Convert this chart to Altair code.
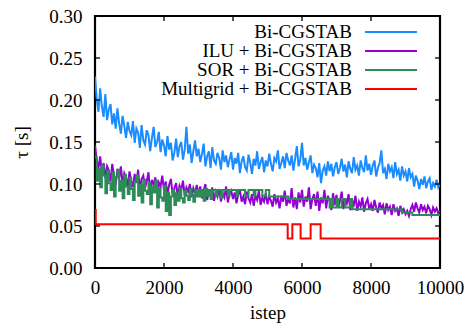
import altair as alt
import pandas as pd

# ---------------- data, tau in milliseconds ----------------
istep = list(range(0, 10001, 50))

bicgstab_ms = [
    228, 201, 186, 214, 192, 180, 207, 176, 189, 195, 171, 184, 166, 190, 172, 160, 181, 169, 155, 174,
    163, 158, 175, 149, 166, 161, 143, 170, 152, 147, 164, 158, 139, 155, 168, 144, 150, 162, 138, 153,
    146, 133, 157, 141, 149, 128, 137, 154, 132, 145, 150, 129, 141, 168, 136, 147, 125, 139, 152, 133,
    142, 126, 136, 148, 121, 133, 139, 119, 144, 128, 124, 137, 131, 117, 140, 126, 134, 120, 129, 138,
    117, 131, 124, 137, 113, 127, 133, 120, 116, 135, 125, 112, 130, 122, 139, 118, 126, 132, 114, 128,
    121, 136, 124, 115, 131, 127, 140, 118, 125, 133, 119, 137, 128, 122, 134, 116, 130, 145, 121, 129,
    149, 122, 131, 117, 126, 134, 113, 123, 119, 108, 125, 101, 116, 121, 110, 127, 115, 124, 109, 120,
    126, 112, 119, 130, 115, 123, 108, 127, 118, 113, 132, 117, 122, 110, 128, 119, 114, 134, 116, 124,
    111, 122, 128, 109, 119, 125, 140, 113, 118, 106, 124, 115, 120, 107, 126, 112, 117, 104, 121, 110,
    115, 103, 119, 108, 112, 97, 110, 104, 94, 106, 99, 109, 95, 103, 107, 93, 101, 97, 105, 96,
    100,
]

ilu_ms = [
    146, 128, 119, 133, 112, 125, 107, 121, 116, 103, 124, 110, 99, 118, 106, 121, 100, 113, 108, 97,
    115, 104, 96, 112, 101, 117, 93, 106, 110, 95, 103, 114, 91, 105, 99, 108, 89, 102, 97, 110,
    92, 103, 88, 99, 106, 87, 95, 101, 85, 98, 93, 104, 86, 96, 91, 100, 84, 95, 89, 99,
    87, 97, 83, 92, 100, 81, 90, 86, 96, 80, 91, 85, 94, 79, 89, 84, 97, 78, 88, 92,
    82, 90, 77, 87, 93, 79, 85, 76, 91, 83, 78, 88, 74, 86, 81, 92, 75, 84, 79, 89,
    76, 85, 80, 73, 88, 78, 83, 71, 86, 79, 92, 74, 82, 77, 95, 72, 84, 70, 90, 78,
    93, 73, 85, 79, 96, 70, 82, 88, 74, 91, 68, 84, 77, 93, 71, 86, 80, 69, 89, 75,
    87, 72, 80, 91, 70, 83, 77, 88, 69, 81, 75, 86, 68, 79, 73, 84, 67, 77, 82, 70,
    76, 68, 81, 72, 66, 78, 71, 75, 64, 77, 69, 73, 63, 76, 68, 71, 62, 74, 66, 70,
    64, 68, 62, 70, 75, 67, 78, 71, 66, 76, 69, 73, 65, 74, 70, 63, 72, 67, 71, 65,
    68,
]

sor_ms = [
    132, 104, 118, 96, 122, 110, 89, 116, 101, 93, 114, 85, 108, 117, 92, 104, 83, 111, 97, 88,
    107, 94, 81, 103, 110, 86, 99, 78, 105, 92, 88, 101, 76, 97, 90, 104, 72, 95, 84, 80,
    98, 68, 90, 63, 85, 93, 75, 89, 80, 95, 83, 78, 92, 86, 81, 94, 87, 79, 93, 85,
    93, 85, 93, 80, 94, 86, 93, 82, 93, 93, 86, 93, 93, 84, 93, 93, 93, 86, 93, 93,
    93, 93, 86, 93, 93, 93, 93, 86, 86, 93, 93, 93, 86, 93, 93, 93, 93, 86, 86, 93,
    93, 85, 85, 85, 85, 85, 85, 85, 85, 85, 85, 85, 82, 82, 82, 82, 82, 82, 82, 82,
    82, 82, 82, 82, 82, 82, 82, 82, 82, 82, 82, 82, 82, 82, 82, 82, 72, 82, 72, 72,
    82, 72, 72, 82, 82, 72, 72, 72, 82, 70, 70, 70, 70, 70, 70, 70, 70, 70, 70, 70,
    70, 70, 70, 70, 70, 70, 70, 70, 70, 70, 70, 70, 70, 70, 70, 70, 70, 70, 66, 66,
    66, 66, 66, 66, 63, 63, 63, 63, 63, 63, 63, 63, 63, 63, 63, 63, 63, 63, 63, 63,
    63,
]

mg_istep = [0, 20, 5585, 5720, 5960, 6250, 6540, 10000]
multigrid_ms = [69, 52, 35, 52, 35, 52, 35, 35]

x_ticks = [0, 2000, 4000, 6000, 8000, 10000]
y_ticks = [0.00, 0.05, 0.10, 0.15, 0.20, 0.25, 0.30]

labels = ["Bi-CGSTAB", "ILU + Bi-CGSTAB", "SOR + Bi-CGSTAB", "Multigrid + Bi-CGSTAB"]
colors = ["#1a8cff", "#9400d3", "#2e8b57", "#ff0000"]

# ---------------- chart ----------------
W, H = 345, 252
FONT = "Liberation Serif, serif"
FS = 19

xs = alt.Scale(domain=[0, 10000], nice=False, zero=False)
ys = alt.Scale(domain=[0, 0.30], nice=False)

x_axis = alt.Axis(values=x_ticks, format="d", ticks=False, domain=False, grid=False,
                  labelFont=FONT, labelFontSize=FS, labelPadding=10, labelFlush=False,
                  labelOverlap=False, labelColor="black",
                  title="istep", titleFont=FONT, titleFontSize=FS, titleFontWeight="normal",
                  titlePadding=6, titleColor="black")
y_axis = alt.Axis(values=y_ticks, format=".2f", ticks=False, domain=False, grid=False,
                  labelFont=FONT, labelFontSize=FS, labelPadding=13, labelColor="black",
                  labelOverlap=False,
                  title="τ [s]", titleFont=FONT, titleFontSize=FS, titleFontWeight="normal",
                  titlePadding=17, titleColor="black")

X = alt.X("istep:Q", scale=xs, axis=x_axis)
Y = alt.Y("tau:Q", scale=ys, axis=y_axis)


def series(xv, yv_ms, color, interp):
    df = pd.DataFrame({"istep": xv, "tau": [v / 1000 for v in yv_ms]})
    return alt.Chart(df).mark_line(color=color, strokeWidth=2, interpolate=interp,
                                   clip=True).encode(x=X, y=Y)


layers = [
    series(istep, bicgstab_ms, colors[0], "linear"),
    series(istep, ilu_ms, colors[1], "linear"),
    series(istep, sor_ms, colors[2], "step-after"),
    series(mg_istep, multigrid_ms, colors[3], "step-after"),
]

# inward ticks on all four sides
xt = pd.DataFrame({"istep": x_ticks})
yt = pd.DataFrame({"tau": y_ticks})
TL = 5
layers += [
    alt.Chart(xt).mark_rule(color="black", strokeWidth=1.3).encode(x=X, y=alt.value(H), y2=alt.value(H - TL)),
    alt.Chart(xt).mark_rule(color="black", strokeWidth=1.3).encode(x=X, y=alt.value(0), y2=alt.value(TL)),
    alt.Chart(yt).mark_rule(color="black", strokeWidth=1.3).encode(y=Y, x=alt.value(0), x2=alt.value(TL)),
    alt.Chart(yt).mark_rule(color="black", strokeWidth=1.3).encode(y=Y, x=alt.value(W), x2=alt.value(W - TL)),
]

# key (top right, text left of line sample)
one = pd.DataFrame({"k": [0]})
for i, (lab, col) in enumerate(zip(labels, colors)):
    yy = 16 + 19 * i
    layers.append(alt.Chart(one).mark_text(align="right", baseline="middle", font=FONT,
                                           fontSize=FS, color="black")
                  .encode(x=alt.value(257), y=alt.value(yy), text=alt.value(lab)))
    layers.append(alt.Chart(one).mark_rule(color=col, strokeWidth=1.8)
                  .encode(x=alt.value(270), x2=alt.value(322), y=alt.value(yy)))

chart = alt.layer(*layers).properties(
    width=W, height=H,
    autosize=alt.AutoSizeParams(type="none"),
    padding={"left": 95, "top": 16, "right": 30, "bottom": 61},
    background="white",
).configure(font=FONT).configure_view(stroke="black", strokeWidth=2.2)

chart.save("out.html", embed_options={"renderer": "svg", "actions": False})
